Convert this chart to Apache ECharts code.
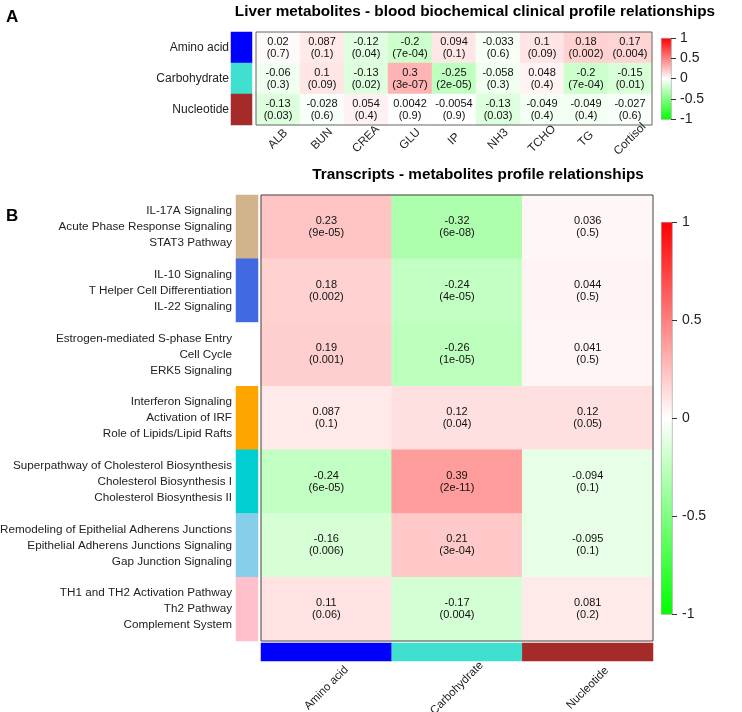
<!DOCTYPE html>
<html>
<head>
<meta charset="utf-8">
<script src="https://cdn.jsdelivr.net/npm/echarts@6/dist/echarts.min.js"></script>
<style>
  html, body { margin: 0; padding: 0; background: #fff; }
  #chart { width: 742px; height: 712px; }
</style>
</head>
<body>
<div id="chart"></div>
<script>
// panel A: liver metabolite classes vs blood biochemical parameters
const rowsA = ["Amino acid", "Carbohydrate", "Nucleotide"];
const colsA = ["ALB", "BUN", "CREA", "GLU", "IP", "NH3", "TCHO", "TG", "Cortisol"];
const rA = [
  [0.02, 0.087, -0.12, -0.2, 0.094, -0.033, 0.1, 0.18, 0.17],
  [-0.06, 0.1, -0.13, 0.3, -0.25, -0.058, 0.048, -0.2, -0.15],
  [-0.13, -0.028, 0.054, 0.0042, -0.0054, -0.13, -0.049, -0.049, -0.027],
];
const pA = [
  ["0.7", "0.1", "0.04", "7e-04", "0.1", "0.6", "0.09", "0.002", "0.004"],
  ["0.3", "0.09", "0.02", "3e-07", "2e-05", "0.3", "0.4", "7e-04", "0.01"],
  ["0.03", "0.6", "0.4", "0.9", "0.9", "0.03", "0.4", "0.4", "0.6"],
];
const stripColorsA = ["#0000FF", "#40E0D0", "#A52A2A"];

// panel B: transcript pathway groups vs metabolite classes
const rowsB = [
  "IL-17A Signaling\nAcute Phase Response Signaling\nSTAT3 Pathway",
  "IL-10 Signaling\nT Helper Cell Differentiation\nIL-22 Signaling",
  "Estrogen-mediated S-phase Entry\nCell Cycle\nERK5 Signaling",
  "Interferon Signaling\nActivation of IRF\nRole of Lipids/Lipid Rafts",
  "Superpathway of Cholesterol Biosynthesis\nCholesterol Biosynthesis I\nCholesterol Biosynthesis II",
  "Remodeling of Epithelial Adherens Junctions\nEpithelial Adherens Junctions Signaling\nGap Junction Signaling",
  "TH1 and TH2 Activation Pathway\nTh2 Pathway\nComplement System",
];
const colsB = ["Amino acid", "Carbohydrate", "Nucleotide"];
const rB = [
  [0.23, -0.32, 0.036],
  [0.18, -0.24, 0.044],
  [0.19, -0.26, 0.041],
  [0.087, 0.12, 0.12],
  [-0.24, 0.39, -0.094],
  [-0.16, 0.21, -0.095],
  [0.11, -0.17, 0.081],
];
const pB = [
  ["9e-05", "6e-08", "0.5"],
  ["0.002", "4e-05", "0.5"],
  ["0.001", "1e-05", "0.5"],
  ["0.1", "0.04", "0.05"],
  ["6e-05", "2e-11", "0.1"],
  ["0.006", "3e-04", "0.1"],
  ["0.06", "0.004", "0.2"],
];
const stripColorsB = ["#D2B48C", "#4169E1", "#FFFFFF", "#FFA500", "#00CED1", "#87CEEB", "#FFC0CB"];
const colColorsB = ["#0000FF", "#40E0D0", "#A52A2A"];

const scaleTicks = [-1, -0.5, 0, 0.5, 1];

const font = "'Liberation Sans', Arial, sans-serif";

const cells = (r, p) => {
  const out = [];
  r.forEach((row, i) => row.forEach((v, j) => out.push([j, i, v, p[i][j]])));
  return out;
};
const strip = (colors, vertical) =>
  colors.map((c, i) => ({ value: vertical ? [0, i, 1] : [i, 0, 1], itemStyle: { color: c } }));

const cellLabel = {
  show: true,
  color: "#111",
  fontSize: 11,
  lineHeight: 12,
  formatter: (p) => p.data[2] + "\n(" + p.data[3] + ")",
};

const colorbar = (x, y, w, h) => ({
  type: "rect",
  left: x,
  top: y,
  shape: { width: w, height: h },
  style: {
    fill: new echarts.graphic.LinearGradient(0, 0, 0, 1, [
      { offset: 0, color: "#FF0000" },
      { offset: 0.5, color: "#FFFFFF" },
      { offset: 1, color: "#00FF00" },
    ]),
    stroke: "#999",
    lineWidth: 0.6,
  },
});

const hidden = { show: false };
const noAxis = { axisLine: hidden, axisTick: hidden, splitLine: hidden };
const box = (left, top, width, height, extra) =>
  Object.assign({ left, top, width, height, outerBoundsMode: "none", containLabel: false }, extra || {});
const border = (c) => ({ show: true, borderColor: c, borderWidth: 1, backgroundColor: "transparent", z: 10 });

const option = {
  animation: false,
  backgroundColor: "#fff",
  textStyle: { fontFamily: font },
  title: [
    { text: "A", left: 6, top: 9, padding: 0, textStyle: { fontSize: 17, fontWeight: "bold", color: "#000" } },
    {
      text: "Liver metabolites - blood biochemical clinical profile relationships",
      left: 475, top: 4, padding: 0, textAlign: "center",
      textStyle: { fontSize: 15.3, fontWeight: "bold", color: "#000" },
    },
    { text: "B", left: 6, top: 208, padding: 0, textStyle: { fontSize: 17, fontWeight: "bold", color: "#000" } },
    {
      text: "Transcripts - metabolites profile relationships",
      left: 478, top: 167, padding: 0, textAlign: "center",
      textStyle: { fontSize: 15.3, fontWeight: "bold", color: "#000" },
    },
  ],
  grid: [
    box(231, 32, 21, 93),
    box(256, 32, 396, 93, border("#666")),
    box(236, 195, 22, 446),
    box(261, 195, 392, 446, border("#444")),
    box(261, 643, 392, 18),
    box(661, 38, 10, 81),
    box(661, 222, 11, 392),
  ],
  xAxis: [
    { gridIndex: 0, type: "category", data: ["s"], show: false },
    {
      gridIndex: 1, type: "category", data: colsA, ...noAxis, z: 12,
      axisLabel: { rotate: 45, align: "center", verticalAlign: "middle", margin: 14, fontSize: 11.8, color: "#222", interval: 0, overflow: "none", hideOverlap: false },
    },
    { gridIndex: 2, type: "category", data: ["s"], show: false },
    { gridIndex: 3, type: "category", data: colsB, show: false },
    {
      gridIndex: 4, type: "category", data: colsB, ...noAxis, z: 12,
      axisLabel: { rotate: 45, align: "center", verticalAlign: "middle", margin: 27, fontSize: 11.5, color: "#222", interval: 0, overflow: "none", hideOverlap: false },
    },
    { gridIndex: 5, type: "category", data: ["s"], show: false },
    { gridIndex: 6, type: "category", data: ["s"], show: false },
  ],
  yAxis: [
    {
      gridIndex: 0, type: "category", data: rowsA, inverse: true, ...noAxis,
      axisLabel: { margin: 2, fontSize: 12, color: "#222" },
    },
    { gridIndex: 1, type: "category", data: rowsA, inverse: true, show: false },
    {
      gridIndex: 2, type: "category", data: rowsB, inverse: true, ...noAxis,
      axisLabel: { margin: 4, fontSize: 11.7, lineHeight: 16, color: "#222", align: "right", overflow: "none" },
    },
    { gridIndex: 3, type: "category", data: rowsB, inverse: true, show: false },
    { gridIndex: 4, type: "category", data: ["s"], show: false },
    {
      gridIndex: 5, type: "value", min: scaleTicks[0], max: scaleTicks[4], interval: 0.5, position: "right",
      axisLine: hidden, splitLine: hidden,
      axisTick: { show: true, length: 5, lineStyle: { color: "#333" } },
      axisLabel: { margin: 9, fontSize: 14, color: "#222" },
    },
    {
      gridIndex: 6, type: "value", min: scaleTicks[0], max: scaleTicks[4], interval: 0.5, position: "right",
      axisLine: hidden, splitLine: hidden,
      axisTick: { show: true, length: 5, lineStyle: { color: "#333" } },
      axisLabel: { margin: 10, fontSize: 14, color: "#222" },
    },
  ],
  visualMap: [
    { show: false, seriesIndex: 1, dimension: 2, min: -1, max: 1, inRange: { color: ["#00FF00", "#FFFFFF", "#FF0000"] } },
    { show: false, seriesIndex: 3, dimension: 2, min: -1, max: 1, inRange: { color: ["#00FF00", "#FFFFFF", "#FF0000"] } },
  ],
  series: [
    { type: "heatmap", xAxisIndex: 0, yAxisIndex: 0, data: strip(stripColorsA, true), emphasis: { disabled: true } },
    { type: "heatmap", xAxisIndex: 1, yAxisIndex: 1, data: cells(rA, pA), label: cellLabel, emphasis: { disabled: true } },
    { type: "heatmap", xAxisIndex: 2, yAxisIndex: 2, data: strip(stripColorsB, true), emphasis: { disabled: true } },
    { type: "heatmap", xAxisIndex: 3, yAxisIndex: 3, data: cells(rB, pB), label: cellLabel, emphasis: { disabled: true } },
    { type: "heatmap", xAxisIndex: 4, yAxisIndex: 4, data: strip(colColorsB, false), emphasis: { disabled: true } },
  ],
  graphic: [colorbar(661, 38, 10, 81), colorbar(661, 222, 11, 392)],
};

const chart = echarts.init(document.getElementById("chart"));
chart.setOption(option);
</script>
</body>
</html>
